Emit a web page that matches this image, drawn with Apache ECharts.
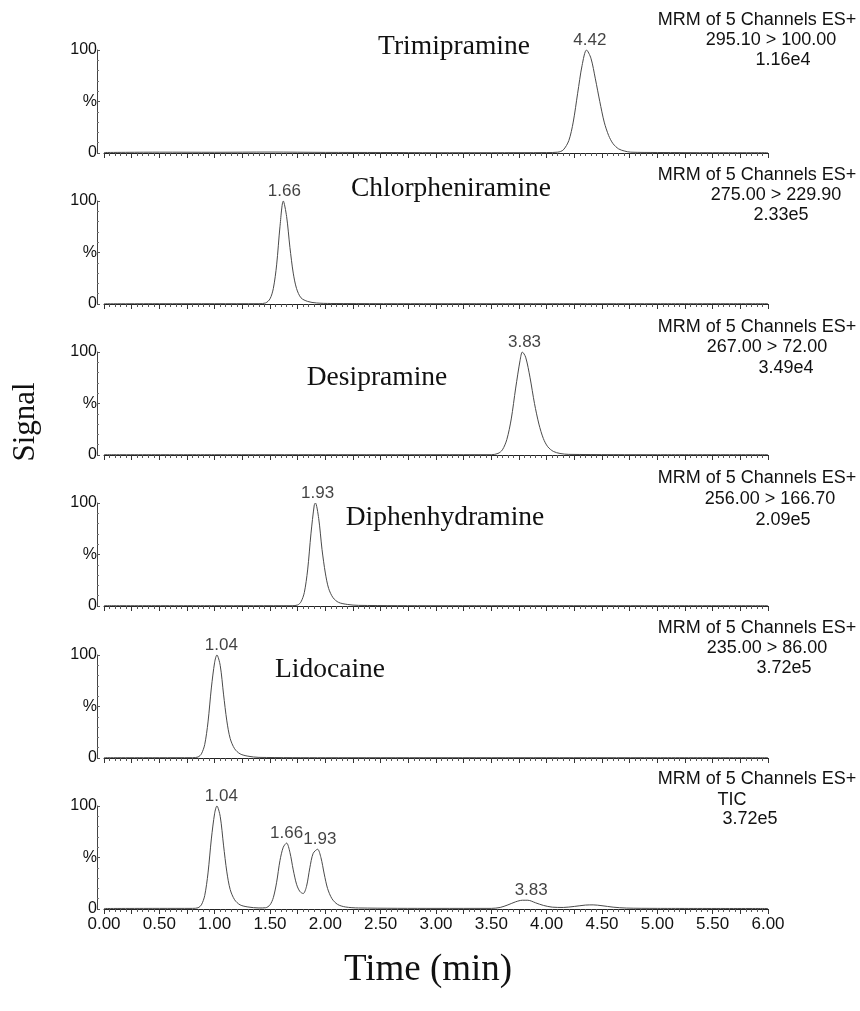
<!DOCTYPE html>
<html>
<head>
<meta charset="utf-8">
<script src="https://cdn.jsdelivr.net/npm/echarts@6/dist/echarts.min.js"></script>
<style>html,body{margin:0;padding:0;background:#fff}#c{width:860px;height:1011px}</style>
</head>
<body>
<div id="c"></div>
<script>
// ---- data (time in min, intensity in %) ----
const compounds = ['Trimipramine','Chlorpheniramine','Desipramine','Diphenhydramine','Lidocaine',''];
const headerLine1 = ['MRM of 5 Channels ES+','MRM of 5 Channels ES+','MRM of 5 Channels ES+','MRM of 5 Channels ES+','MRM of 5 Channels ES+','MRM of 5 Channels ES+'];
const headerLine2 = ['295.10 > 100.00','275.00 > 229.90','267.00 > 72.00','256.00 > 166.70','235.00 > 86.00','TIC'];
const headerLine3 = ['1.16e4','2.33e5','3.49e4','2.09e5','3.72e5','3.72e5'];
const xTicks = ['0.00','0.50','1.00','1.50','2.00','2.50','3.00','3.50','4.00','4.50','5.00','5.50','6.00'];

const trimipramine = [[0,0.5],[0.5,0.8],[1.0,0.7],[1.5,0.9],[2.0,0.6],[2.5,0.5],[3.0,0.3],[3.5,0.3],[4.0,0.4],[4.10,0.8],[4.15,3],[4.20,12],[4.24,30],[4.28,58],[4.32,85],[4.36,100],[4.40,92],[4.44,72],[4.48,50],[4.52,30],[4.56,17],[4.60,9],[4.65,4],[4.70,2],[4.76,0.8],[5.0,0.5],[5.5,0.3],[6.0,0.3]];
const chlorpheniramine = [[0,0.2],[0.5,0.3],[1.0,0.3],[1.40,0.3],[1.46,1],[1.50,5],[1.53,15],[1.56,38],[1.59,75],[1.62,100],[1.65,85],[1.68,55],[1.71,30],[1.74,15],[1.78,6],[1.84,2.5],[1.92,1],[2.05,0.5],[3.0,0.3],[4.0,0.3],[5.0,0.3],[6.0,0.3]];
const desipramine = [[0,0.3],[1.0,0.3],[2.0,0.3],[3.0,0.3],[3.50,0.3],[3.56,1.5],[3.60,5],[3.64,15],[3.68,35],[3.72,65],[3.76,92],[3.78,100],[3.81,95],[3.85,75],[3.89,50],[3.93,30],[3.97,16],[4.01,8],[4.06,3.5],[4.12,1.5],[4.2,0.6],[5.0,0.3],[6.0,0.3]];
const diphenhydramine = [[0,0.3],[1.0,0.3],[1.70,0.3],[1.75,1],[1.78,4],[1.81,13],[1.84,35],[1.87,70],[1.90,98],[1.91,100],[1.94,85],[1.97,55],[2.00,32],[2.03,17],[2.07,8],[2.12,3.5],[2.20,1.5],[2.30,0.6],[3.0,0.3],[4.0,0.3],[5.0,0.3],[6.0,0.3]];
const lidocaine = [[0,0.3],[0.5,0.3],[0.80,0.3],[0.85,1],[0.88,4],[0.91,13],[0.94,35],[0.97,68],[1.00,93],[1.02,100],[1.05,90],[1.08,62],[1.11,36],[1.14,19],[1.18,9],[1.23,4],[1.30,1.8],[1.40,0.6],[2.0,0.3],[3.0,0.3],[4.0,0.3],[5.0,0.3],[6.0,0.3]];
const tic = [[0,0.5],[0.5,0.6],[0.80,0.6],[0.85,1.2],[0.88,4],[0.91,13],[0.94,35],[0.97,68],[1.00,93],[1.02,100],[1.05,90],[1.08,62],[1.11,36],[1.14,19],[1.18,9],[1.23,4],[1.30,2],[1.40,1],[1.46,1.2],[1.50,4],[1.53,11],[1.56,26],[1.59,47],[1.62,60],[1.65,64],[1.68,55],[1.71,38],[1.74,24],[1.77,17],[1.80,15],[1.83,22],[1.86,40],[1.89,54],[1.93,58],[1.96,50],[1.99,34],[2.02,20],[2.06,10],[2.11,4.5],[2.18,2],[2.30,1],[3.0,0.6],[3.50,0.6],[3.58,1.5],[3.65,4],[3.72,7],[3.78,8.5],[3.83,8.5],[3.90,6],[3.97,3.5],[4.05,1.8],[4.15,1.5],[4.25,2.5],[4.35,3.8],[4.42,4],[4.50,3.2],[4.60,1.8],[4.72,0.9],[5.0,0.6],[6.0,0.5]];
const traces = [trimipramine, chlorpheniramine, desipramine, diphenhydramine, lidocaine, tic];

// peak labels: [time, intensity, text]
const peakLabels = [
  [[4.39,100,'4.42']],
  [[1.63,100,'1.66']],
  [[3.80,100,'3.83']],
  [[1.93,100,'1.93']],
  [[1.06,100,'1.04']],
  [[1.06,100,'1.04'],[1.65,64,'1.66'],[1.95,58,'1.93'],[3.86,8.5,'3.83']]
];

// ---- layout ----
const panelTop = [50, 201, 352, 503, 655, 806];
const panelH = 103;
const gridLeft = 104, gridRight = 92;
const compoundPos = [[454,47],[451,189],[377,378],[445,518],[330,670],[0,0]];
const headerY = [[20,40,60],[175,195,215],[327,347,368],[478,499,520],[628,648,668],[779,800,819]];
const headerX2 = [771,776,767,770,767,732];
const headerX3 = [783,781,786,783,784,750];

const sans = '"Liberation Sans", Arial, sans-serif';
const serif = '"Liberation Serif", "Times New Roman", serif';

const grids = [], xAxes = [], yAxes = [], series = [], graphics = [];
for (let i = 0; i < 6; i++) {
  const last = i === 5;
  grids.push({left: gridLeft, right: gridRight, top: panelTop[i], height: panelH});
  xAxes.push({
    type: 'value', gridIndex: i, min: 0, max: 6, interval: 0.25,
    axisLine: {show: true, onZero: false, lineStyle: {color: '#222', width: 1}},
    axisTick: {show: true, length: 5, lineStyle: {color: '#333'}},
    minorTick: {show: true, splitNumber: 5, length: 3, lineStyle: {color: '#555'}},
    splitLine: {show: false},
    axisLabel: {
      show: last, color: '#111', fontFamily: sans, fontSize: 17, margin: 7,
      formatter: v => { const k = Math.round(v * 4); return k % 2 === 0 ? xTicks[k / 2] : ''; }
    }
  });
  yAxes.push({
    type: 'value', gridIndex: i, min: 0, max: 100, interval: 50, offset: 7,
    axisLine: {show: true, onZero: false, lineStyle: {color: '#444', width: 1}},
    axisTick: {show: true, inside: true, length: 3, lineStyle: {color: '#555'}},
    minorTick: {show: true, splitNumber: 5, length: 2, lineStyle: {color: '#777'}},
    splitLine: {show: false},
    axisLabel: {
      color: '#111', fontFamily: sans, fontSize: 16, margin: 0,
      formatter: v => v === 0 ? '0' : (v === 50 ? '%' : '100')
    }
  });
  series.push({
    type: 'line', xAxisIndex: i, yAxisIndex: i, data: traces[i], smooth: 0.3,
    showSymbol: false, symbol: 'none', lineStyle: {color: '#4a4a4a', width: 1}, silent: true
  });
  series.push({
    type: 'scatter', xAxisIndex: i, yAxisIndex: i, data: peakLabels[i], symbolSize: 0,
    silent: true,
    label: {show: true, position: 'top', distance: 1, color: '#111', fontFamily: sans, fontSize: 17,
      formatter: p => p.data[2]}
  });
  if (compounds[i]) {
    graphics.push({type: 'text', x: compoundPos[i][0], y: compoundPos[i][1],
      style: {text: compounds[i], font: '27.5px ' + serif, fill: '#111', textAlign: 'center', textVerticalAlign: 'middle'}});
  }
  graphics.push({type: 'text', x: 757, y: headerY[i][0],
    style: {text: headerLine1[i], font: '18px ' + sans, fill: '#111', textAlign: 'center', textVerticalAlign: 'middle'}});
  graphics.push({type: 'text', x: headerX2[i], y: headerY[i][1],
    style: {text: headerLine2[i], font: '18px ' + sans, fill: '#111', textAlign: 'center', textVerticalAlign: 'middle'}});
  graphics.push({type: 'text', x: headerX3[i], y: headerY[i][2],
    style: {text: headerLine3[i], font: '18px ' + sans, fill: '#111', textAlign: 'center', textVerticalAlign: 'middle'}});
}
graphics.push({type: 'text', x: 26, y: 422, rotation: Math.PI / 2,
  style: {text: 'Signal', font: '31px ' + serif, fill: '#111', textAlign: 'center', textVerticalAlign: 'middle'}});
graphics.push({type: 'text', x: 428, y: 970,
  style: {text: 'Time (min)', font: '37px ' + serif, fill: '#111', textAlign: 'center', textVerticalAlign: 'middle'}});

const chart = echarts.init(document.getElementById('c'), null, {renderer: 'canvas'});
chart.setOption({
  animation: false,
  backgroundColor: '#fff',
  grid: grids, xAxis: xAxes, yAxis: yAxes, series: series, graphic: graphics
});
</script>
</body>
</html>
